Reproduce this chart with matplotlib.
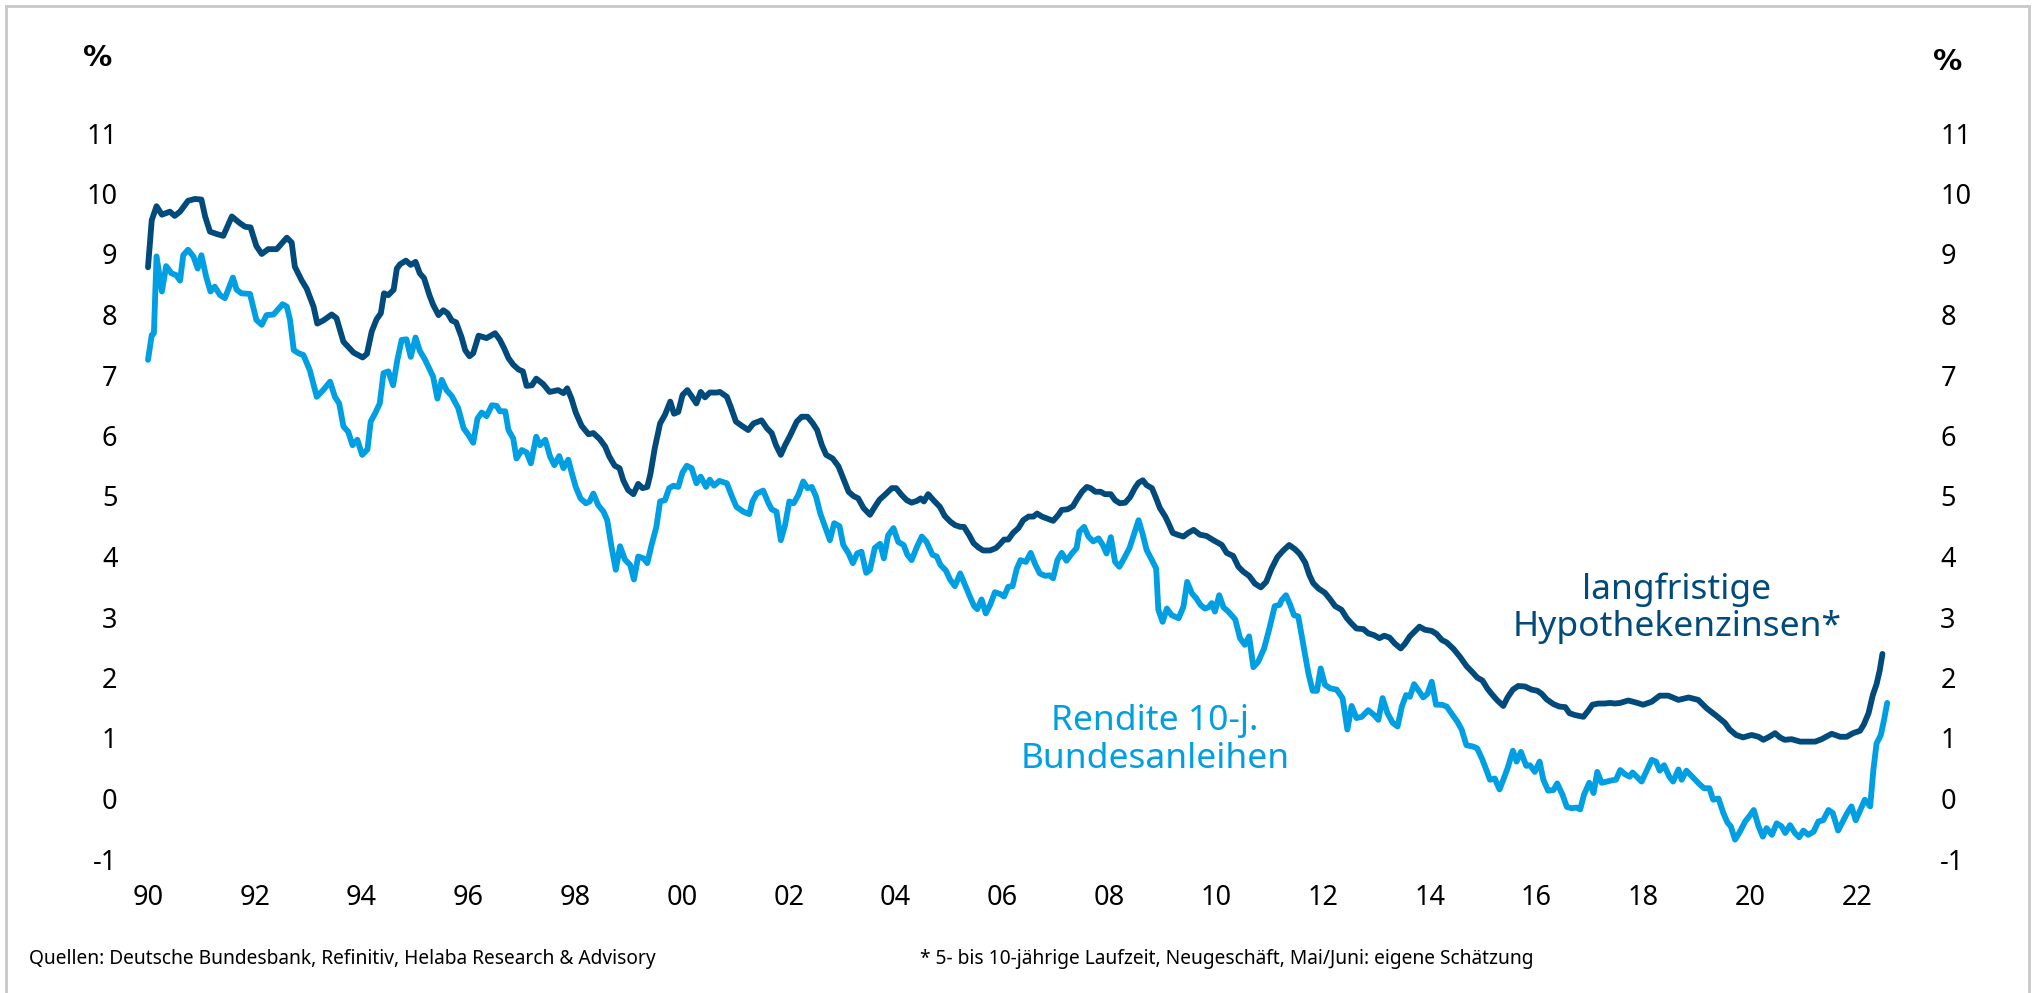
import matplotlib
matplotlib.use("Agg")
import matplotlib.pyplot as plt
from matplotlib.lines import Line2D

# langfristige Hypothekenzinsen (dark) - decimal year / percent
hyp_years = [
    1990.00, 1990.07, 1990.16, 1990.26, 1990.41, 1990.50, 1990.60, 1990.75, 1990.88, 1991.00,
    1991.07, 1991.16, 1991.29, 1991.41, 1991.57, 1991.72, 1991.82, 1991.92, 1992.03, 1992.13,
    1992.25, 1992.41, 1992.60, 1992.69, 1992.75, 1992.88, 1992.97, 1993.10, 1993.17, 1993.28,
    1993.44, 1993.53, 1993.66, 1993.85, 1994.02, 1994.10, 1994.19, 1994.28, 1994.36, 1994.42,
    1994.50, 1994.60, 1994.66, 1994.72, 1994.83, 1994.92, 1995.01, 1995.09, 1995.17, 1995.27,
    1995.34, 1995.44, 1995.53, 1995.61, 1995.69, 1995.77, 1995.87, 1995.94, 1996.02, 1996.09,
    1996.19, 1996.34, 1996.50, 1996.59, 1996.67, 1996.75, 1996.84, 1996.94, 1997.02, 1997.09,
    1997.19, 1997.27, 1997.40, 1997.52, 1997.68, 1997.78, 1997.85, 1997.93, 1998.01, 1998.12,
    1998.25, 1998.34, 1998.46, 1998.56, 1998.64, 1998.74, 1998.83, 1998.90, 1998.99, 1999.09,
    1999.18, 1999.26, 1999.35, 1999.41, 1999.49, 1999.59, 1999.68, 1999.78, 1999.85, 1999.93,
    2000.01, 2000.10, 2000.18, 2000.27, 2000.35, 2000.43, 2000.52, 2000.65, 2000.71, 2000.84,
    2000.91, 2001.01, 2001.12, 2001.24, 2001.34, 2001.49, 2001.59, 2001.68, 2001.76, 2001.85,
    2001.93, 2002.02, 2002.15, 2002.24, 2002.35, 2002.45, 2002.53, 2002.62, 2002.70, 2002.82,
    2002.93, 2003.02, 2003.12, 2003.21, 2003.30, 2003.40, 2003.52, 2003.61, 2003.70, 2003.80,
    2003.93, 2004.01, 2004.11, 2004.21, 2004.30, 2004.40, 2004.47, 2004.53, 2004.61, 2004.71,
    2004.83, 2004.92, 2005.02, 2005.11, 2005.21, 2005.28, 2005.38, 2005.46, 2005.55, 2005.64,
    2005.77, 2005.88, 2005.95, 2006.03, 2006.11, 2006.20, 2006.30, 2006.39, 2006.49, 2006.58,
    2006.65, 2006.74, 2006.83, 2006.95, 2007.05, 2007.11, 2007.22, 2007.32, 2007.40, 2007.49,
    2007.58, 2007.65, 2007.74, 2007.84, 2007.92, 2008.03, 2008.11, 2008.20, 2008.30, 2008.39,
    2008.48, 2008.55, 2008.63, 2008.70, 2008.80, 2008.88, 2008.95, 2009.05, 2009.11, 2009.19,
    2009.28, 2009.39, 2009.48, 2009.58, 2009.70, 2009.82, 2009.95, 2010.11, 2010.20, 2010.32,
    2010.42, 2010.51, 2010.62, 2010.73, 2010.84, 2010.94, 2011.04, 2011.15, 2011.26, 2011.37,
    2011.48, 2011.57, 2011.67, 2011.75, 2011.82, 2011.92, 2012.04, 2012.14, 2012.23, 2012.35,
    2012.45, 2012.54, 2012.63, 2012.76, 2012.85, 2012.96, 2013.06, 2013.15, 2013.25, 2013.35,
    2013.46, 2013.54, 2013.63, 2013.73, 2013.81, 2013.91, 2014.04, 2014.13, 2014.23, 2014.32,
    2014.45, 2014.57, 2014.69, 2014.81, 2014.89, 2014.99, 2015.08, 2015.16, 2015.27, 2015.38,
    2015.46, 2015.56, 2015.66, 2015.79, 2015.91, 2016.02, 2016.10, 2016.19, 2016.32, 2016.43,
    2016.54, 2016.62, 2016.72, 2016.88, 2016.97, 2017.05, 2017.16, 2017.28, 2017.38, 2017.47,
    2017.57, 2017.72, 2017.85, 2018.00, 2018.16, 2018.31, 2018.47, 2018.66, 2018.85, 2019.03,
    2019.19, 2019.38, 2019.53, 2019.62, 2019.74, 2019.87, 2020.03, 2020.16, 2020.25, 2020.36,
    2020.47, 2020.56, 2020.65, 2020.78, 2020.94, 2021.06, 2021.22, 2021.34, 2021.53, 2021.69,
    2021.81, 2021.93, 2022.06, 2022.13, 2022.22, 2022.30, 2022.37, 2022.43, 2022.48,
]
hyp_values = [
    8.78, 9.56, 9.79, 9.65, 9.70, 9.63, 9.70, 9.88, 9.91, 9.90,
    9.62, 9.37, 9.33, 9.30, 9.62, 9.51, 9.45, 9.44, 9.13, 9.00,
    9.08, 9.08, 9.27, 9.19, 8.79, 8.56, 8.43, 8.13, 7.85, 7.90,
    8.00, 7.94, 7.55, 7.37, 7.29, 7.35, 7.72, 7.92, 8.02, 8.35,
    8.32, 8.41, 8.76, 8.83, 8.89, 8.82, 8.87, 8.68, 8.60, 8.32,
    8.16, 7.99, 8.07, 8.02, 7.90, 7.87, 7.63, 7.41, 7.31, 7.36,
    7.65, 7.61, 7.69, 7.58, 7.44, 7.28, 7.17, 7.09, 7.06, 6.82,
    6.83, 6.94, 6.85, 6.72, 6.75, 6.70, 6.78, 6.61, 6.38, 6.16,
    6.02, 6.04, 5.94, 5.82, 5.65, 5.50, 5.46, 5.26, 5.10, 5.03,
    5.20, 5.13, 5.15, 5.37, 5.79, 6.20, 6.34, 6.56, 6.36, 6.39,
    6.67, 6.75, 6.65, 6.53, 6.72, 6.63, 6.71, 6.71, 6.72, 6.64,
    6.48, 6.23, 6.16, 6.09, 6.20, 6.25, 6.12, 6.04, 5.84, 5.68,
    5.84, 5.99, 6.23, 6.31, 6.31, 6.20, 6.09, 5.84, 5.68, 5.62,
    5.49, 5.29, 5.07, 5.00, 4.96, 4.80, 4.69, 4.82, 4.94, 5.02,
    5.13, 5.13, 5.02, 4.93, 4.89, 4.92, 4.96, 4.91, 5.03, 4.93,
    4.82, 4.67, 4.58, 4.52, 4.49, 4.49, 4.35, 4.22, 4.15, 4.10,
    4.10, 4.14, 4.20, 4.28, 4.28, 4.39, 4.47, 4.60, 4.66, 4.66,
    4.71, 4.66, 4.63, 4.59, 4.69, 4.77, 4.78, 4.83, 4.95, 5.07,
    5.15, 5.13, 5.07, 5.07, 5.03, 5.03, 4.93, 4.88, 4.89, 4.98,
    5.13, 5.22, 5.26, 5.18, 5.13, 4.96, 4.80, 4.66, 4.55, 4.39,
    4.36, 4.33, 4.39, 4.44, 4.36, 4.34, 4.27, 4.19, 4.06, 4.01,
    3.83, 3.75, 3.68, 3.55, 3.49, 3.58, 3.80, 3.99, 4.10, 4.19,
    4.12, 4.04, 3.90, 3.69, 3.56, 3.47, 3.40, 3.29, 3.18, 3.12,
    2.98, 2.89, 2.81, 2.80, 2.73, 2.70, 2.65, 2.69, 2.66, 2.56,
    2.48, 2.56, 2.68, 2.77, 2.84, 2.79, 2.77, 2.72, 2.62, 2.58,
    2.47, 2.34, 2.19, 2.08, 2.00, 1.95, 1.82, 1.73, 1.62, 1.53,
    1.67, 1.80, 1.86, 1.85, 1.80, 1.78, 1.73, 1.64, 1.56, 1.52,
    1.51, 1.41, 1.38, 1.35, 1.45, 1.55, 1.57, 1.57, 1.58, 1.57,
    1.58, 1.62, 1.59, 1.55, 1.60, 1.70, 1.70, 1.63, 1.67, 1.63,
    1.49, 1.36, 1.25, 1.14, 1.05, 1.01, 1.05, 1.02, 0.97, 1.02,
    1.08, 1.01, 0.97, 0.98, 0.94, 0.94, 0.94, 0.98, 1.07, 1.02,
    1.02, 1.08, 1.12, 1.22, 1.41, 1.71, 1.89, 2.12, 2.39,
]

# Rendite 10-j. Bundesanleihen (light)
bund_years = [
    1990.00, 1990.07, 1990.11, 1990.16, 1990.26, 1990.34, 1990.44, 1990.53, 1990.60, 1990.66,
    1990.75, 1990.85, 1990.93, 1991.00, 1991.09, 1991.17, 1991.25, 1991.35, 1991.44, 1991.59,
    1991.66, 1991.75, 1991.91, 1992.03, 1992.13, 1992.22, 1992.35, 1992.52, 1992.60, 1992.66,
    1992.73, 1992.82, 1992.91, 1993.03, 1993.16, 1993.28, 1993.41, 1993.50, 1993.58, 1993.66,
    1993.75, 1993.83, 1993.92, 1994.01, 1994.11, 1994.17, 1994.25, 1994.34, 1994.41, 1994.50,
    1994.59, 1994.67, 1994.75, 1994.84, 1994.92, 1995.01, 1995.09, 1995.19, 1995.28, 1995.34,
    1995.42, 1995.50, 1995.59, 1995.69, 1995.81, 1995.91, 1996.00, 1996.09, 1996.17, 1996.25,
    1996.34, 1996.44, 1996.53, 1996.59, 1996.69, 1996.75, 1996.84, 1996.90, 1997.00, 1997.09,
    1997.17, 1997.27, 1997.34, 1997.44, 1997.53, 1997.61, 1997.70, 1997.78, 1997.87, 1997.93,
    1998.01, 1998.10, 1998.20, 1998.27, 1998.34, 1998.43, 1998.53, 1998.60, 1998.68, 1998.76,
    1998.84, 1998.93, 1999.03, 1999.10, 1999.18, 1999.28, 1999.35, 1999.43, 1999.52, 1999.59,
    1999.68, 1999.76, 1999.84, 1999.93, 2000.01, 2000.09, 2000.18, 2000.27, 2000.35, 2000.45,
    2000.52, 2000.60, 2000.70, 2000.84, 2000.95, 2001.02, 2001.15, 2001.26, 2001.32, 2001.40,
    2001.52, 2001.62, 2001.68, 2001.77, 2001.85, 2001.93, 2002.01, 2002.09, 2002.18, 2002.27,
    2002.35, 2002.43, 2002.51, 2002.59, 2002.68, 2002.77, 2002.85, 2002.95, 2003.02, 2003.12,
    2003.20, 2003.28, 2003.36, 2003.45, 2003.52, 2003.61, 2003.71, 2003.78, 2003.86, 2003.96,
    2004.05, 2004.15, 2004.22, 2004.30, 2004.40, 2004.49, 2004.58, 2004.69, 2004.77, 2004.84,
    2004.94, 2005.02, 2005.11, 2005.21, 2005.30, 2005.38, 2005.47, 2005.53, 2005.61, 2005.69,
    2005.77, 2005.86, 2005.96, 2006.03, 2006.11, 2006.19, 2006.27, 2006.34, 2006.44, 2006.53,
    2006.61, 2006.70, 2006.80, 2006.88, 2006.95, 2007.03, 2007.11, 2007.20, 2007.30, 2007.39,
    2007.44, 2007.53, 2007.61, 2007.70, 2007.80, 2007.88, 2007.95, 2008.03, 2008.11, 2008.19,
    2008.28, 2008.38, 2008.45, 2008.55, 2008.63, 2008.70, 2008.80, 2008.88, 2008.92, 2009.00,
    2009.08, 2009.17, 2009.30, 2009.39, 2009.46, 2009.55, 2009.63, 2009.71, 2009.79, 2009.86,
    2009.92, 2009.98, 2010.06, 2010.14, 2010.23, 2010.36, 2010.45, 2010.54, 2010.62, 2010.70,
    2010.79, 2010.90, 2011.00, 2011.10, 2011.19, 2011.23, 2011.31, 2011.39, 2011.46, 2011.54,
    2011.64, 2011.73, 2011.81, 2011.89, 2011.96, 2012.04, 2012.14, 2012.26, 2012.37, 2012.46,
    2012.54, 2012.63, 2012.73, 2012.85, 2012.96, 2013.04, 2013.12, 2013.21, 2013.31, 2013.40,
    2013.48, 2013.56, 2013.63, 2013.71, 2013.79, 2013.88, 2013.96, 2014.04, 2014.12, 2014.23,
    2014.32, 2014.43, 2014.52, 2014.60, 2014.69, 2014.81, 2014.89, 2014.98, 2015.06, 2015.13,
    2015.22, 2015.31, 2015.38, 2015.46, 2015.56, 2015.63, 2015.71, 2015.81, 2015.88, 2015.97,
    2016.06, 2016.13, 2016.22, 2016.32, 2016.39, 2016.49, 2016.57, 2016.66, 2016.75, 2016.82,
    2016.89, 2016.99, 2017.07, 2017.14, 2017.22, 2017.32, 2017.41, 2017.49, 2017.57, 2017.66,
    2017.75, 2017.80, 2017.97, 2018.07, 2018.16, 2018.24, 2018.31, 2018.39, 2018.49, 2018.56,
    2018.66, 2018.72, 2018.81, 2018.93, 2019.05, 2019.14, 2019.24, 2019.31, 2019.41, 2019.50,
    2019.58, 2019.64, 2019.72, 2019.81, 2019.91, 2019.99, 2020.07, 2020.16, 2020.24, 2020.31,
    2020.41, 2020.50, 2020.59, 2020.66, 2020.75, 2020.84, 2020.92, 2021.00, 2021.09, 2021.19,
    2021.28, 2021.37, 2021.47, 2021.55, 2021.65, 2021.75, 2021.82, 2021.90, 2021.98, 2022.07,
    2022.15, 2022.25, 2022.31, 2022.37, 2022.45, 2022.51, 2022.57,
]
bund_values = [
    7.25, 7.66, 7.69, 8.96, 8.38, 8.80, 8.68, 8.65, 8.56, 8.98,
    9.07, 8.96, 8.76, 8.98, 8.62, 8.38, 8.46, 8.32, 8.27, 8.61,
    8.41, 8.35, 8.34, 7.91, 7.83, 7.99, 8.00, 8.17, 8.13, 7.91,
    7.41, 7.36, 7.33, 7.08, 6.64, 6.75, 6.89, 6.64, 6.53, 6.15,
    6.06, 5.84, 5.93, 5.68, 5.77, 6.23, 6.36, 6.53, 7.03, 7.06,
    6.83, 7.25, 7.58, 7.59, 7.30, 7.62, 7.40, 7.25, 7.08, 6.97,
    6.61, 6.92, 6.75, 6.65, 6.45, 6.12, 6.01, 5.88, 6.28, 6.38,
    6.32, 6.50, 6.49, 6.40, 6.40, 6.09, 5.95, 5.62, 5.76, 5.72,
    5.54, 5.98, 5.84, 5.93, 5.65, 5.51, 5.66, 5.46, 5.60, 5.40,
    5.15, 4.96, 4.88, 4.91, 5.04, 4.85, 4.74, 4.60, 4.16, 3.78,
    4.17, 3.95, 3.86, 3.62, 4.00, 3.97, 3.89, 4.19, 4.49, 4.91,
    4.93, 5.13, 5.17, 5.15, 5.39, 5.50, 5.46, 5.21, 5.32, 5.15,
    5.27, 5.17, 5.25, 5.21, 4.96, 4.82, 4.74, 4.70, 4.91, 5.04,
    5.09, 4.88, 4.78, 4.74, 4.27, 4.52, 4.91, 4.88, 5.02, 5.24,
    5.13, 5.15, 4.99, 4.71, 4.49, 4.27, 4.55, 4.50, 4.19, 4.05,
    3.89, 4.05, 4.08, 3.73, 3.78, 4.14, 4.21, 3.97, 4.35, 4.47,
    4.24, 4.19, 4.03, 3.94, 4.16, 4.33, 4.24, 4.03, 4.00, 3.86,
    3.77, 3.62, 3.51, 3.72, 3.53, 3.36, 3.18, 3.13, 3.29, 3.06,
    3.20, 3.41, 3.38, 3.34, 3.50, 3.51, 3.80, 3.94, 3.91, 4.06,
    3.88, 3.72, 3.68, 3.69, 3.64, 3.94, 4.06, 3.93, 4.05, 4.14,
    4.41, 4.49, 4.33, 4.25, 4.30, 4.19, 4.05, 4.32, 3.91, 3.83,
    3.97, 4.14, 4.33, 4.60, 4.36, 4.11, 3.94, 3.80, 3.12, 2.92,
    3.14, 3.03, 2.98, 3.17, 3.58, 3.39, 3.31, 3.20, 3.14, 3.16,
    3.23, 3.09, 3.36, 3.16, 3.09, 2.96, 2.65, 2.54, 2.68, 2.17,
    2.26, 2.48, 2.81, 3.18, 3.20, 3.28, 3.36, 3.20, 3.03, 3.01,
    2.51, 2.07, 1.78, 1.78, 2.15, 1.88, 1.82, 1.80, 1.66, 1.14,
    1.53, 1.33, 1.35, 1.46, 1.38, 1.30, 1.66, 1.41, 1.25, 1.19,
    1.52, 1.71, 1.68, 1.89, 1.79, 1.67, 1.73, 1.93, 1.55, 1.55,
    1.52, 1.38, 1.27, 1.14, 0.88, 0.86, 0.83, 0.66, 0.48, 0.31,
    0.33, 0.15, 0.31, 0.50, 0.79, 0.61, 0.77, 0.54, 0.55, 0.44,
    0.61, 0.31, 0.13, 0.14, 0.25, 0.06, -0.14, -0.16, -0.15, -0.18,
    0.06, 0.26, 0.09, 0.44, 0.26, 0.28, 0.30, 0.31, 0.47, 0.40,
    0.36, 0.43, 0.28, 0.47, 0.64, 0.61, 0.46, 0.55, 0.36, 0.28,
    0.48, 0.31, 0.46, 0.35, 0.24, 0.17, 0.17, -0.02, 0.00, -0.24,
    -0.40, -0.46, -0.68, -0.55, -0.38, -0.29, -0.19, -0.46, -0.63, -0.49,
    -0.60, -0.41, -0.46, -0.57, -0.44, -0.57, -0.64, -0.53, -0.60, -0.55,
    -0.38, -0.36, -0.19, -0.24, -0.53, -0.36, -0.24, -0.13, -0.36, -0.18,
    -0.02, -0.13, 0.47, 0.91, 1.05, 1.30, 1.58,
]

tick_years = list(range(1990, 2023, 2))
tick_labels = ["90", "92", "94", "96", "98", "00", "02", "04", "06", "08",
               "10", "12", "14", "16", "18", "20", "22"]
y_ticks = list(range(-1, 12))

DARK = "#004b7c"
LIGHT = "#009fe3"
FONT = "Noto Sans"
W, H = 2032, 993

plt.rcParams["font.family"] = [FONT, "DejaVu Sans"]

fig = plt.figure(figsize=(W / 100, H / 100), dpi=100)
# axes placed in pixels: x 148..1900, y 133..859
ax = fig.add_axes([148 / W, (H - 859) / H, (1900 - 148) / W, (859 - 133) / H])
ax.plot(hyp_years, hyp_values, color=DARK, lw=4.2, solid_joinstyle="round",
        solid_capstyle="round", clip_on=False)
ax.plot(bund_years, bund_values, color=LIGHT, lw=4.2, solid_joinstyle="round",
        solid_capstyle="round", clip_on=False)

ax.set_xlim(1990, 1990 + (1900 - 148) / 53.4)
ax.set_ylim(-1, 11)
ax.set_xticks(tick_years)
ax.set_xticklabels(tick_labels)
ax.set_yticks(y_ticks)
ax.set_yticklabels([str(v) for v in y_ticks])
ax.tick_params(axis="x", length=0, pad=18, labelsize=19.5)
ax.tick_params(axis="y", length=0, pad=22, labelsize=19.5)
for s in ax.spines.values():
    s.set_visible(False)

ax2 = ax.twinx()
ax2.set_ylim(-1, 11)
ax2.set_yticks(y_ticks)
ax2.set_yticklabels([str(v) for v in y_ticks])
ax2.tick_params(axis="y", length=0, pad=29, labelsize=19.5)
for s in ax2.spines.values():
    s.set_visible(False)


def fx(x):
    return x / W


def fy(y):
    return 1 - y / H


fig.text(fx(98), fy(58), "%", fontsize=21, fontweight="bold", family="DejaVu Sans",
         ha="center", va="center")
fig.text(fx(1948), fy(62), "%", fontsize=21, fontweight="bold", family="DejaVu Sans",
         ha="center", va="center")

fig.text(fx(1677), fy(608), "langfristige\nHypothekenzinsen*", color=DARK, fontsize=25.5,
         ha="center", va="center", linespacing=1.12)
fig.text(fx(1155), fy(740), "Rendite 10-j.\nBundesanleihen", color=LIGHT, fontsize=25.5,
         ha="center", va="center", linespacing=1.12)

fig.text(fx(29), fy(959), "Quellen: Deutsche Bundesbank, Refinitiv, Helaba Research & Advisory",
         fontsize=13.8, ha="left", va="center")
fig.text(fx(920), fy(959), "* 5- bis 10-jährige Laufzeit, Neugeschäft, Mai/Juni: eigene Schätzung",
         fontsize=13.8, ha="left", va="center")

# light grey frame
frame_c = "#c8c8c8"
fig.add_artist(Line2D([fx(6), fx(6)], [fy(6), 0], color=frame_c, lw=2))
fig.add_artist(Line2D([fx(6), fx(2029)], [fy(6), fy(6)], color=frame_c, lw=2))
fig.add_artist(Line2D([fx(2029), fx(2029)], [fy(6), 0], color=frame_c, lw=2))

fig.savefig("out.png", dpi=100)
